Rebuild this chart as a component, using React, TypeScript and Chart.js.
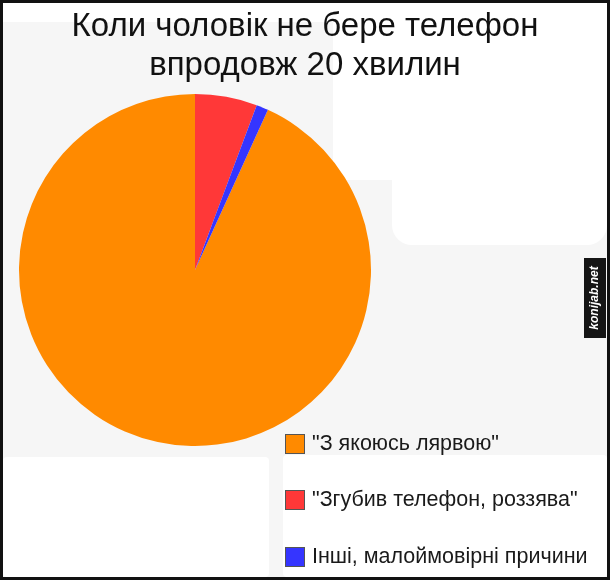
import React, { useEffect, useRef } from 'react';
import { Chart, registerables } from 'chart.js';

Chart.register(...registerables);

const titleLines = ['Коли чоловік не бере телефон', 'впродовж 20 хвилин'];
const categories = ['"З якоюсь лярвою"', '"Згубив телефон, роззява"', 'Інші, малоймовірні причини'];
const shares = [93.2, 5.7, 1.1];
const colors = ['#ff8a00', '#ff3838', '#3535ff'];
const watermark = 'konijab.net';

const FONT = '"Liberation Sans", Arial, Helvetica, sans-serif';

const backgroundPlugin = {
  id: 'bgDecor',
  beforeDraw(chart: any) {
    const ctx = chart.ctx;
    const w = chart.width;
    const h = chart.height;
    ctx.save();
    ctx.fillStyle = '#f6f6f6';
    ctx.fillRect(0, 0, w, h);
    ctx.fillStyle = '#ffffff';
    ctx.fillRect(3, 3, w - 6, 19);
    ctx.beginPath();
    ctx.roundRect(333, 3, 274, 177, 14);
    ctx.fill();
    ctx.beginPath();
    ctx.roundRect(392, 3, 215, 242, 20);
    ctx.fill();
    ctx.beginPath();
    ctx.roundRect(3, 457, 266, 120, 4);
    ctx.fill();
    ctx.beginPath();
    ctx.roundRect(283, 455, 324, 122, 4);
    ctx.fill();
    ctx.restore();
  },
};

const fixAreaPlugin = {
  id: 'fixArea',
  afterLayout(chart: any) {
    const a = chart.chartArea;
    a.left = 19;
    a.right = 371;
    a.top = 94;
    a.bottom = 446;
    a.width = 352;
    a.height = 352;
  },
};

const legendPlugin = {
  id: 'customLegend',
  afterDraw(chart: any) {
    const ctx = chart.ctx;
    const ds = chart.data.datasets[0];
    ctx.save();
    (chart.data.labels as string[]).forEach((lab, i) => {
      const y = 443 + i * 56.5;
      ctx.fillStyle = ds.backgroundColor[i];
      ctx.fillRect(285.5, Math.round(y - 9.5) + 0.5, 19, 19);
      ctx.strokeStyle = '#555555';
      ctx.lineWidth = 1;
      ctx.strokeRect(285.5, Math.round(y - 9.5) + 0.5, 19, 19);
      ctx.fillStyle = '#1a1a1a';
      ctx.font = '21.5px ' + FONT;
      ctx.textBaseline = 'middle';
      ctx.textAlign = 'left';
      ctx.fillText(lab, 312, y + 1);
    });
    ctx.restore();
  },
};

const framePlugin = {
  id: 'frame',
  afterDraw(chart: any) {
    const ctx = chart.ctx;
    ctx.save();
    ctx.fillStyle = '#151515';
    ctx.fillRect(584, 258, 22, 80);
    ctx.translate(595, 298);
    ctx.rotate(-Math.PI / 2);
    ctx.fillStyle = '#ffffff';
    ctx.font = 'italic bold 12px ' + FONT;
    ctx.textAlign = 'center';
    ctx.textBaseline = 'middle';
    ctx.fillText(watermark, 0, 0);
    ctx.restore();
    ctx.save();
    ctx.strokeStyle = '#111111';
    ctx.lineWidth = 3;
    ctx.strokeRect(1.5, 1.5, chart.width - 3, chart.height - 3);
    ctx.restore();
  },
};

export default function App() {
  const ref = useRef<HTMLCanvasElement | null>(null);

  useEffect(() => {
    if (!ref.current) return;
    const total = shares.reduce((s, v) => s + v, 0);
    const rotation = ((total - shares[0]) / total) * 360;
    const chart = new Chart(ref.current, {
      type: 'pie',
      data: {
        labels: categories,
        datasets: [
          {
            data: shares,
            backgroundColor: colors,
            borderWidth: 0,
            hoverOffset: 0,
          },
        ],
      },
      options: {
        responsive: false,
        animation: false,
        rotation,
        events: [],
        layout: { padding: 0 },
        plugins: {
          legend: { display: false },
          tooltip: { enabled: false },
          title: {
            display: true,
            text: titleLines,
            color: '#111111',
            font: { family: FONT, size: 33, weight: 'normal', lineHeight: 1.2 },
            padding: { top: 7, bottom: 4 },
          },
        },
      },
      plugins: [backgroundPlugin, fixAreaPlugin, legendPlugin, framePlugin],
    } as any);
    return () => chart.destroy();
  }, []);

  return (
    <div style={{ position: 'fixed', left: 0, top: 0, width: 610, height: 580 }}>
      <canvas ref={ref} width={610} height={580} />
    </div>
  );
}
